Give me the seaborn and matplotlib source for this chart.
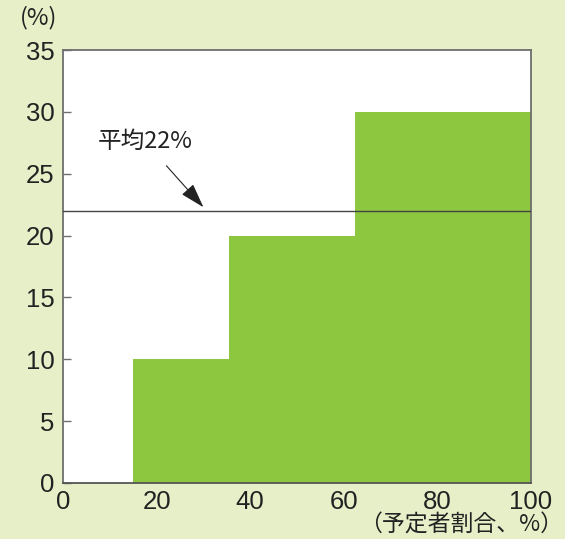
import numpy as np
import pandas as pd
import matplotlib
matplotlib.use("Agg")
import matplotlib.pyplot as plt
import seaborn as sns

# data: cumulative share of planners (x, %) and rate for each group (y, %)
bin_edges = [15, 35.5, 62.5, 100]
group_values = [10, 20, 30]
average_value = 22
average_label = "平均22%"
x_ticks = [0, 20, 40, 60, 80, 100]
y_ticks = [0, 5, 10, 15, 20, 25, 30, 35]
x_label = "（予定者割合、%）"
y_unit = "(%)"

BG = "#e6efc7"
GREEN = "#8dc63f"
LINE = "#6e6e6e"

sns.set_theme(style="white")
plt.rcParams['font.family'] = ['Liberation Sans', 'Noto Sans CJK JP', 'DejaVu Sans']

fig = plt.figure(figsize=(5.65, 5.39), dpi=100, facecolor=BG)
ax = fig.add_axes([0.1115, 0.1039, 0.8283, 0.8031])
ax.set_facecolor("white")

# midpoints of each bin carry the weight of the group value
mids = [(bin_edges[i] + bin_edges[i + 1]) / 2 for i in range(len(group_values))]
df = pd.DataFrame({"share": mids, "value": group_values})
sns.histplot(data=df, x="share", weights="value", bins=bin_edges, stat="count",
             color=GREEN, alpha=1, linewidth=0, edgecolor=GREEN, ax=ax)

# average line
ax.axhline(average_value, color="#444444", linewidth=1.0, zorder=3)
ax.annotate(average_label, xy=(30, average_value + 0.3), xytext=(17.5, 27.6),
            ha="center", va="center", fontsize=17,
            family=['Noto Sans CJK JP', 'Liberation Sans'], color="#222222",
            arrowprops=dict(arrowstyle="-|>,head_length=0.9,head_width=0.28",
                            color="#222222", lw=0.8, shrinkA=9, shrinkB=0))

ax.set_xlim(0, 100)
ax.set_ylim(0, 35)
ax.set_xticks(x_ticks)
ax.set_yticks(y_ticks)
ax.set_xlabel("")
ax.set_ylabel("")
ax.tick_params(axis="y", direction="in", length=6, width=1, color=LINE,
               labelsize=18.5, labelcolor="#222222", pad=6)
ax.tick_params(axis="x", length=0, labelsize=18.5, labelcolor="#222222", pad=5)
ax.tick_params(axis="y", left=True)

for s in ax.spines.values():
    s.set_color(LINE)
    s.set_linewidth(1.3)
    s.set_visible(True)
ax.spines["bottom"].set_color("#555555")

fig.text(0.997, 0.026, x_label, ha="right", va="center", fontsize=16.5,
         family=['Noto Sans CJK JP', 'Liberation Sans'], color="#222222")
fig.text(0.068, 0.968, y_unit, ha="center", va="center", fontsize=17,
         family=['Noto Sans CJK JP', 'Liberation Sans'], color="#222222")

fig.savefig("out.png", dpi=100, facecolor=BG)
